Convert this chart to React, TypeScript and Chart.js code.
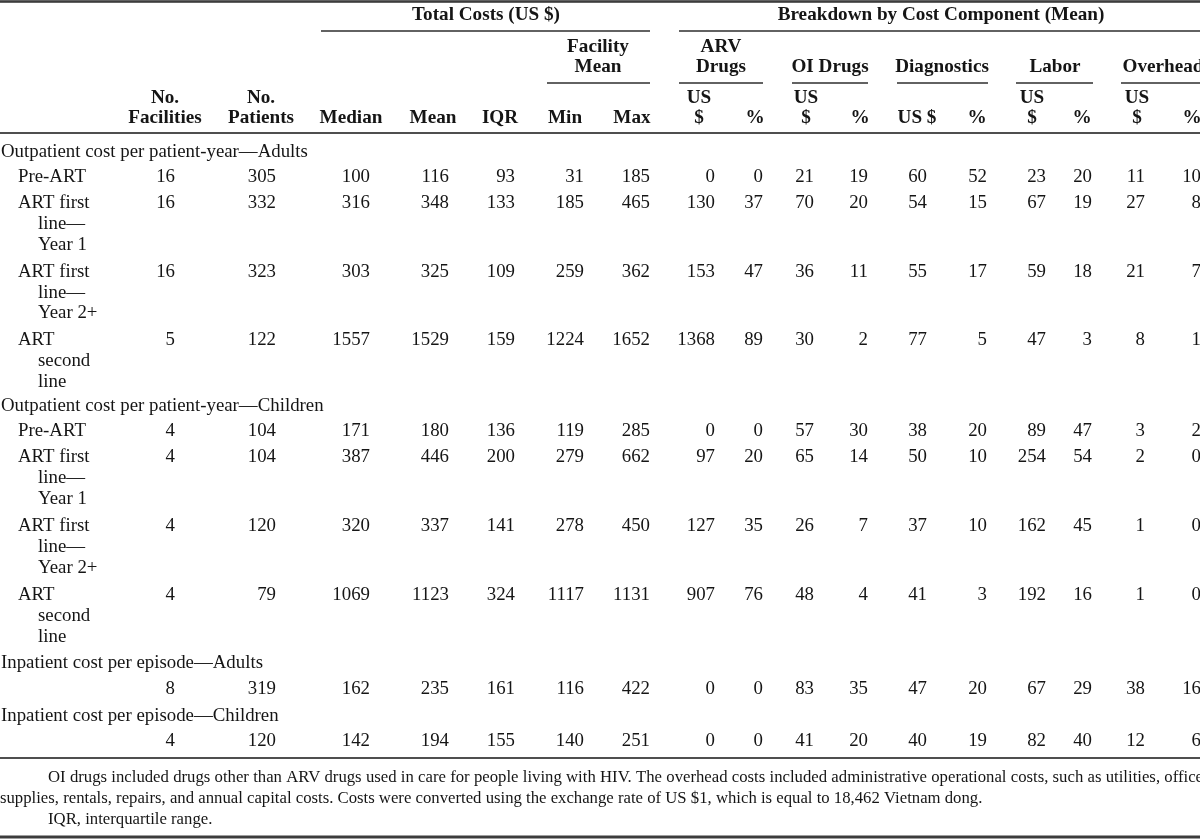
import React, { useEffect, useRef } from "react";
import { Chart, registerables } from "chart.js";
Chart.register(...registerables);

// ---------- DATA ----------
const sectionTitles = [
  "Outpatient cost per patient-year—Adults",
  "Outpatient cost per patient-year—Children",
  "Inpatient cost per episode—Adults",
  "Inpatient cost per episode—Children",
];
const rowLabels: string[][] = [
  ["Pre-ART"],
  ["ART first", "line—", "Year 1"],
  ["ART first", "line—", "Year 2+"],
  ["ART", "second", "line"],
  ["Pre-ART"],
  ["ART first", "line—", "Year 1"],
  ["ART first", "line—", "Year 2+"],
  ["ART", "second", "line"],
  [],
  [],
];
const noFacilities = [16, 16, 16, 5, 4, 4, 4, 4, 8, 4];
const noPatients = [305, 332, 323, 122, 104, 104, 120, 79, 319, 120];
const medianCost = [100, 316, 303, 1557, 171, 387, 320, 1069, 162, 142];
const meanCost = [116, 348, 325, 1529, 180, 446, 337, 1123, 235, 194];
const iqrCost = [93, 133, 109, 159, 136, 200, 141, 324, 161, 155];
const facilityMin = [31, 185, 259, 1224, 119, 279, 278, 1117, 116, 140];
const facilityMax = [185, 465, 362, 1652, 285, 662, 450, 1131, 422, 251];
const arvUsd = [0, 130, 153, 1368, 0, 97, 127, 907, 0, 0];
const arvPct = [0, 37, 47, 89, 0, 20, 35, 76, 0, 0];
const oiUsd = [21, 70, 36, 30, 57, 65, 26, 48, 83, 41];
const oiPct = [19, 20, 11, 2, 30, 14, 7, 4, 35, 20];
const diagUsd = [60, 54, 55, 77, 38, 50, 37, 41, 47, 40];
const diagPct = [52, 15, 17, 5, 20, 10, 10, 3, 20, 19];
const laborUsd = [23, 67, 59, 47, 89, 254, 162, 192, 67, 82];
const laborPct = [20, 19, 18, 3, 47, 54, 45, 16, 29, 40];
const overheadUsd = [11, 27, 21, 8, 3, 2, 1, 1, 38, 12];
const overheadPct = [10, 8, 7, 1, 2, 0, 0, 0, 16, 6];

const columns = [
  noFacilities, noPatients, medianCost, meanCost, iqrCost, facilityMin, facilityMax,
  arvUsd, arvPct, oiUsd, oiPct, diagUsd, diagPct, laborUsd, laborPct, overheadUsd, overheadPct,
];
const colHeaderTop = ["No.", "No.", "", "", "", "", "", "US", "", "US", "", "", "", "US", "", "US", ""];
const colHeaderBottom = ["Facilities", "Patients", "Median", "Mean", "IQR", "Min", "Max", "$", "%", "$", "%", "US $", "%", "$", "%", "$", "%"];
const groupTitles1 = ["Total Costs (US $)", "Breakdown by Cost Component (Mean)"];
const groupTitles2: string[][] = [["Facility", "Mean"], ["ARV", "Drugs"], ["OI Drugs"], ["Diagnostics"], ["Labor"], ["Overhead"]];
const footnoteLines = [
  "OI drugs included drugs other than ARV drugs used in care for people living with HIV. The overhead costs included administrative operational costs, such as utilities, office",
  "supplies, rentals, repairs, and annual capital costs. Costs were converted using the exchange rate of US $1, which is equal to 18,462 Vietnam dong.",
  "IQR, interquartile range.",
];

// ---------- LAYOUT ----------
const W = 1200;
const H = 840;
const colRight = [175, 276, 370, 449, 515, 584, 650, 715, 763, 814, 868, 927, 987, 1046, 1092, 1145, 1201];
const colHeadX = [165, 261, 351, 433, 500, 565, 632, 699, 755, 806, 860, 917, 977, 1032, 1082, 1137, 1192];
const sectionY = [152, 406, 663, 716];
const rowY: number[][] = [
  [177], [203, 224, 245], [272, 293, 313], [340, 361, 382],
  [431], [457, 478, 499], [526, 547, 568], [595, 616, 637],
  [689], [741],
];
const group1 = [{ x1: 321, x2: 650, cx: 486 }, { x1: 679, x2: 1200, cx: 941 }];
const group2 = [
  { x1: 547, x2: 650, cx: 598 },
  { x1: 679, x2: 763, cx: 721 },
  { x1: 792, x2: 868, cx: 830 },
  { x1: 897, x2: 988, cx: 942 },
  { x1: 1016, x2: 1093, cx: 1055 },
  { x1: 1121, x2: 1200, cx: 1163 },
];

const SERIF = '"Liberation Serif", "Times New Roman", serif';
const INK = "#151515";
const RULE = "#3c3c3c";

function fitSize(ctx: CanvasRenderingContext2D, text: string, width: number, weight: string) {
  ctx.font = `${weight} 100px ${SERIF}`;
  return (100 * width) / ctx.measureText(text).width;
}

const tablePlugin = {
  id: "tableText",
  afterDraw(chart: any) {
    const ctx: CanvasRenderingContext2D = chart.ctx;
    const xs = chart.scales.x;
    const ys = chart.scales.y;
    const px = (v: number) => xs.getPixelForValue(v);
    const py = (v: number) => ys.getPixelForValue(v);
    ctx.save();
    const bodySize = fitSize(ctx, sectionTitles[0], 307, "normal");
    const boldSize = fitSize(ctx, groupTitles1[0], 148, "bold");
    const body = `normal ${bodySize}px ${SERIF}`;
    const bold = `bold ${boldSize}px ${SERIF}`;
    ctx.fillStyle = INK;
    ctx.textBaseline = "middle";

    const hline = (x1: number, x2: number, y: number, w: number) => {
      ctx.fillStyle = RULE;
      ctx.fillRect(px(x1), py(y) - w / 2, px(x2) - px(x1), w);
      ctx.fillStyle = INK;
    };

    // rules
    hline(0, W, 1.5, 2.6);
    group1.forEach((g) => hline(g.x1, g.x2, 31, 1.6));
    group2.forEach((g) => hline(g.x1, g.x2, 83, 1.6));
    hline(0, W, 133, 1.8);
    hline(0, W, 758, 1.8);
    hline(0, W, 837, 3);

    // headers
    ctx.font = bold;
    ctx.textAlign = "center";
    group1.forEach((g, i) => ctx.fillText(groupTitles1[i], px(g.cx), py(15)));
    group2.forEach((g, i) => {
      const lines = groupTitles2[i];
      if (lines.length === 2) {
        ctx.fillText(lines[0], px(g.cx), py(47));
        ctx.fillText(lines[1], px(g.cx), py(67));
      } else {
        ctx.fillText(lines[0], px(g.cx), py(67));
      }
    });
    colHeaderTop.forEach((t, i) => { if (t) ctx.fillText(t, px(colHeadX[i]), py(98)); });
    colHeaderBottom.forEach((t, i) => ctx.fillText(t, px(colHeadX[i]), py(118)));

    // section titles & row labels
    ctx.font = body;
    ctx.textAlign = "left";
    sectionTitles.forEach((t, i) => ctx.fillText(t, px(1), py(sectionY[i])));
    rowLabels.forEach((lines, r) => {
      lines.forEach((t, k) => ctx.fillText(t, px(k === 0 ? 18 : 38), py(rowY[r][k])));
    });

    // values from dataset points
    ctx.textAlign = "right";
    chart.data.datasets.forEach((ds: any, d: number) => {
      const meta = chart.getDatasetMeta(d);
      meta.data.forEach((pt: any, i: number) => {
        ctx.fillText(String(columns[d][i]), pt.x, pt.y);
      });
    });

    // footnote
    const fnSize = fitSize(ctx, footnoteLines[1], 983, "normal");
    ctx.font = `normal ${fnSize}px ${SERIF}`;
    ctx.textAlign = "left";
    const words = footnoteLines[0].split(" ");
    const widths = words.map((w) => ctx.measureText(w).width);
    const sum = widths.reduce((a, b) => a + b, 0);
    const gap = (px(1203) - px(48) - sum) / (words.length - 1);
    let cx = px(48);
    words.forEach((w, i) => { ctx.fillText(w, cx, py(778)); cx += widths[i] + gap; });
    ctx.fillText(footnoteLines[1], px(0), py(799));
    ctx.fillText(footnoteLines[2], px(48), py(820));
    ctx.restore();
  },
};

export default function App() {
  const ref = useRef<HTMLCanvasElement | null>(null);
  useEffect(() => {
    document.body.style.margin = "0";
    const canvas = ref.current;
    if (!canvas) return;
    const datasets = columns.map((vals, c) => ({
      label: colHeaderBottom[c],
      data: vals.map((v, r) => ({ x: colRight[c], y: rowY[r][0] })),
      pointRadius: 0,
      pointHoverRadius: 0,
      showLine: false,
    }));
    const chart = new Chart(canvas, {
      type: "scatter",
      data: { datasets },
      options: {
        animation: false,
        responsive: false,
        maintainAspectRatio: false,
        events: [],
        layout: { padding: 0 },
        scales: {
          x: { type: "linear", min: 0, max: W, display: false },
          y: { type: "linear", min: 0, max: H, reverse: true, display: false },
        },
        plugins: { legend: { display: false }, tooltip: { enabled: false }, title: { display: false } },
      },
      plugins: [tablePlugin],
    } as any);
    return () => chart.destroy();
  }, []);
  return (
    <div style={{ position: "absolute", left: 0, top: 0, width: W, height: H, background: "#fff" }}>
      <canvas ref={ref} width={W} height={H} style={{ display: "block", width: W, height: H }} />
    </div>
  );
}
